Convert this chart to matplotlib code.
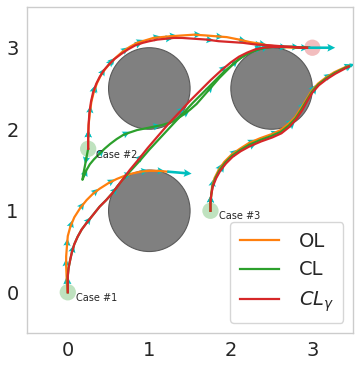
import numpy as np
import matplotlib
matplotlib.use("Agg")
import matplotlib.pyplot as plt
from matplotlib.patches import Circle

# ---- data ----
obstacles_x = [1.0, 1.0, 2.5]
obstacles_y = [1.0, 2.5, 2.5]
obstacle_r = 0.5

starts_x = [0.0, 0.25, 1.75]
starts_y = [0.0, 1.76, 1.0]
case_labels = ["Case #1", "Case #2", "Case #3"]
goal_x, goal_y = 3.0, 3.0

# Case 1
ol1_x = [0.0, -0.01, -0.015, -0.02, -0.02, -0.01, 0.0, 0.03, 0.08, 0.15, 0.23, 0.31, 0.39, 0.5, 0.6, 0.7, 0.8, 0.9, 1.0, 1.1, 1.22]
ol1_y = [0.0, 0.1, 0.2, 0.32, 0.44, 0.57, 0.69, 0.8, 0.92, 1.03, 1.13, 1.21, 1.27, 1.34, 1.39, 1.43, 1.46, 1.48, 1.49, 1.49, 1.48]
cl1_x = [0.0, 0.0, 0.0, 0.01, 0.03, 0.05, 0.08, 0.12, 0.17, 0.23, 0.31, 0.39, 0.47, 0.55, 0.61, 0.67, 0.77, 0.88, 1.0, 1.13, 1.26, 1.4, 1.53, 1.66, 1.79, 1.91, 2.03, 2.13, 2.23, 2.33, 2.42, 2.51, 2.63, 2.75, 2.86, 2.96]
cl1_y = [0.0, 0.1, 0.2, 0.3, 0.4, 0.49, 0.59, 0.68, 0.77, 0.85, 0.95, 1.05, 1.13, 1.22, 1.3, 1.38, 1.49, 1.61, 1.75, 1.89, 2.03, 2.18, 2.32, 2.45, 2.58, 2.7, 2.8, 2.88, 2.94, 2.98, 3.0, 3.01, 3.01, 3.01, 3.0, 3.0]
clg1_x = [0.0, 0.0, 0.0, 0.01, 0.03, 0.05, 0.08, 0.12, 0.17, 0.23, 0.31, 0.39, 0.47, 0.55, 0.61, 0.67, 0.76, 0.86, 0.98, 1.1, 1.23, 1.37, 1.5, 1.62, 1.75, 1.88, 2.0, 2.1, 2.2, 2.3, 2.4, 2.51, 2.63, 2.75, 2.86, 2.96]
clg1_y = [0.0, 0.1, 0.2, 0.3, 0.4, 0.49, 0.59, 0.68, 0.77, 0.85, 0.95, 1.05, 1.13, 1.22, 1.3, 1.38, 1.5, 1.62, 1.77, 1.91, 2.06, 2.21, 2.35, 2.47, 2.6, 2.72, 2.82, 2.89, 2.94, 2.98, 3.0, 3.01, 3.01, 3.01, 3.0, 3.0]

# Case 2
ol2_x = [0.25, 0.25, 0.255, 0.27, 0.29, 0.32, 0.36, 0.41, 0.46, 0.52, 0.59, 0.67, 0.76, 0.85, 0.95, 1.05, 1.15, 1.25, 1.4, 1.55, 1.7, 1.82, 1.95, 2.1, 2.23, 2.35, 2.45, 2.6, 2.75, 2.95]
ol2_y = [1.76, 1.9, 2.05, 2.2, 2.34, 2.46, 2.57, 2.67, 2.74, 2.81, 2.88, 2.95, 3.01, 3.06, 3.09, 3.12, 3.13, 3.14, 3.15, 3.16, 3.15, 3.14, 3.13, 3.1, 3.07, 3.05, 3.03, 3.01, 3.0, 3.0]
cl2_x = [0.25, 0.23, 0.21, 0.19, 0.18, 0.2, 0.23, 0.27, 0.32, 0.38, 0.45, 0.52, 0.6, 0.68, 0.76, 0.85, 0.95, 1.05, 1.15, 1.25, 1.33, 1.42, 1.5, 1.58, 1.65, 1.72, 1.79, 1.86, 1.94, 2.02, 2.1, 2.19, 2.28, 2.38, 2.47, 2.6, 2.75, 2.96]
cl2_y = [1.76, 1.66, 1.55, 1.45, 1.38, 1.43, 1.5, 1.57, 1.63, 1.69, 1.76, 1.82, 1.88, 1.93, 1.96, 1.99, 2.01, 2.03, 2.05, 2.08, 2.12, 2.18, 2.24, 2.31, 2.39, 2.47, 2.55, 2.63, 2.71, 2.79, 2.86, 2.92, 2.96, 2.99, 3.01, 3.01, 3.01, 3.0]
clg2_x = [0.25, 0.25, 0.255, 0.265, 0.285, 0.31, 0.35, 0.39, 0.44, 0.5, 0.57, 0.65, 0.74, 0.83, 0.92, 1.0, 1.1, 1.2, 1.3, 1.4, 1.55, 1.7, 1.85, 2.0, 2.15, 2.3, 2.47, 2.6, 2.75, 2.86, 2.96]
clg2_y = [1.76, 1.9, 2.05, 2.2, 2.34, 2.45, 2.56, 2.64, 2.72, 2.79, 2.86, 2.92, 2.98, 3.03, 3.06, 3.08, 3.1, 3.11, 3.12, 3.12, 3.11, 3.1, 3.08, 3.07, 3.06, 3.04, 3.03, 3.02, 3.01, 3.0, 3.0]

# Case 3
ol3_x = [1.75, 1.75, 1.76, 1.77, 1.8, 1.85, 1.92, 2.01, 2.11, 2.22, 2.36, 2.5, 2.61, 2.7, 2.79, 2.86, 2.93, 2.99, 3.07, 3.16, 3.27, 3.4, 3.46]
ol3_y = [1.0, 1.1, 1.2, 1.3, 1.4, 1.5, 1.6, 1.69, 1.76, 1.83, 1.89, 1.94, 1.99, 2.06, 2.15, 2.26, 2.37, 2.47, 2.56, 2.63, 2.7, 2.76, 2.78]
cl3_x = [1.75, 1.75, 1.76, 1.775, 1.81, 1.86, 1.93, 2.015, 2.115, 2.225, 2.365, 2.505, 2.615, 2.71, 2.795, 2.87, 2.935, 2.995, 3.075, 3.165, 3.275, 3.405, 3.455]
cl3_y = [1.0, 1.1, 1.2, 1.3, 1.4, 1.495, 1.59, 1.675, 1.745, 1.81, 1.87, 1.92, 1.97, 2.045, 2.135, 2.25, 2.36, 2.46, 2.55, 2.62, 2.69, 2.755, 2.775]
clg3_x = [1.75, 1.75, 1.76, 1.78, 1.82, 1.87, 1.94, 2.02, 2.12, 2.23, 2.37, 2.51, 2.62, 2.72, 2.8, 2.88, 2.94, 3.0, 3.08, 3.17, 3.28, 3.41, 3.45]
clg3_y = [1.0, 1.1, 1.2, 1.3, 1.4, 1.49, 1.58, 1.66, 1.73, 1.79, 1.85, 1.9, 1.95, 2.03, 2.12, 2.24, 2.35, 2.45, 2.54, 2.61, 2.68, 2.75, 2.77]

ol_paths = [(ol1_x, ol1_y), (ol2_x, ol2_y), (ol3_x, ol3_y)]
cl_paths = [(cl1_x, cl1_y), (cl2_x, cl2_y), (cl3_x, cl3_y)]
clg_paths = [(clg1_x, clg1_y), (clg2_x, clg2_y), (clg3_x, clg3_y)]
final_arrow_len = [0.3, 0.33, 0.06]

C_OL, C_CL, C_CLG = "#ff7f0e", "#2ca02c", "#d62728"
C_ARROW = "#00bfbf"

fig = plt.figure(figsize=(3.6, 3.66), dpi=100)
ax = fig.add_axes([0.075, 0.09, 0.906, 0.891])

for ox, oy in zip(obstacles_x, obstacles_y):
    ax.add_patch(Circle((ox, oy), obstacle_r, facecolor="#808080", edgecolor="#5a5a5a", lw=0.8, zorder=1))

def arrows(path, step=2, length=0.09, final=None):
    x = np.asarray(path[0], float); y = np.asarray(path[1], float)
    dx = np.gradient(x); dy = np.gradient(y)
    n = np.hypot(dx, dy); n[n == 0] = 1
    idx = np.arange(1, len(x) - 1, step)
    ax.quiver(x[idx], y[idx], dx[idx] / n[idx] * length, dy[idx] / n[idx] * length,
              angles="xy", scale_units="xy", scale=1, color=C_ARROW, width=0.008,
              headwidth=3, headlength=3, headaxislength=2.6, zorder=2.5)
    if final:
        ax.quiver(x[-1:], y[-1:], dx[-1:] / n[-1:] * final, dy[-1:] / n[-1:] * final,
                  angles="xy", scale_units="xy", scale=1, color=C_ARROW, width=0.008,
                  headwidth=3, headlength=3, headaxislength=2.6, zorder=5)

for p, fl in zip(ol_paths, final_arrow_len):
    arrows(p, step=2, final=fl)
for p in clg_paths:
    arrows(p, step=4)
arrows(cl_paths[1], step=4)

for i, (p_ol, p_cl, p_clg) in enumerate(zip(ol_paths, cl_paths, clg_paths)):
    ax.plot(*p_ol, color=C_OL, lw=1.6, zorder=3, label="OL" if i == 0 else None)
    ax.plot(*p_cl, color=C_CL, lw=1.6, zorder=3.2, label="CL" if i == 0 else None)
    ax.plot(*p_clg, color=C_CLG, lw=1.6, zorder=3.4, label=r"$CL_\gamma$" if i == 0 else None)

for sx, sy, lab in zip(starts_x, starts_y, case_labels):
    ax.add_patch(Circle((sx, sy), 0.1, facecolor=C_CL, alpha=0.3, zorder=2))
    ax.text(sx + 0.1, sy - 0.07, lab, fontsize=7, color="#262626", va="center", ha="left", zorder=6)
ax.add_patch(Circle((goal_x, goal_y), 0.1, facecolor=C_CLG, alpha=0.3, zorder=2))

ax.set_xlim(-0.5, 3.5)
ax.set_ylim(-0.5, 3.5)
ax.set_aspect("equal")
ax.set_xticks([0, 1, 2, 3])
ax.set_yticks([0, 1, 2, 3])
ax.tick_params(length=0, labelsize=14, colors="#262626", pad=6)
for s in ax.spines.values():
    s.set_color("#cccccc")
    s.set_linewidth(1.0)

leg = ax.legend(loc="lower right", fontsize=14, handlelength=2.0, frameon=True,
                borderpad=0.5, labelspacing=0.5, handletextpad=1.0)
leg.get_frame().set_edgecolor("#cccccc")
for t in leg.get_texts():
    t.set_color("#262626")

fig.savefig("out.png", dpi=100)
